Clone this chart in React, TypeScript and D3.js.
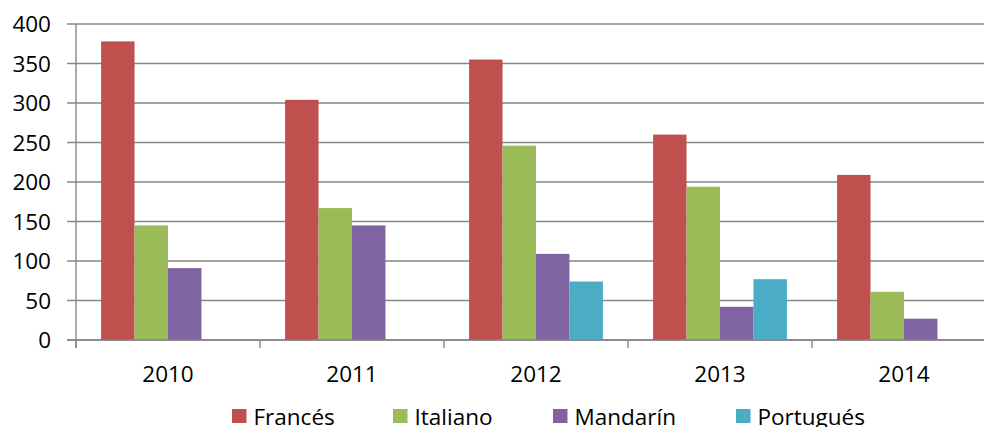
import React from "react";
import * as d3 from "d3";

const years = ["2010", "2011", "2012", "2013", "2014"];
const seriesNames = ["Francés", "Italiano", "Mandarín", "Portugués"];
const frances = [378, 304, 355, 260, 209];
const italiano = [145, 167, 246, 194, 61];
const mandarin = [91, 145, 109, 42, 27];
const portugues: (number | null)[] = [null, null, 74, 77, null];
const yTicks = [0, 50, 100, 150, 200, 250, 300, 350, 400];
const colors = ["#C0504D", "#9BBB59", "#8064A2", "#4BACC6"];

const W = 984;
const H = 427;
const plotLeft = 76;
const plotRight = 996;
const plotTop = 24;
const plotBottom = 340;
const FONT = "'Open Sans', sans-serif";
const legendX = [232, 393, 553, 736];

export default function App() {
  const values = [frances, italiano, mandarin, portugues];
  const x0 = d3.scaleBand<string>().domain(years).range([plotLeft, plotRight]).padding(0);
  const x1 = d3
    .scaleBand<string>()
    .domain(seriesNames)
    .range([0, x0.bandwidth()])
    .paddingInner(0)
    .paddingOuter(0.75);
  const y = d3.scaleLinear().domain([0, 400]).range([plotBottom, plotTop]);
  const axisColor = "#868686";
  const boundaries = years.map((yr) => x0(yr)!).concat([plotRight]);

  return (
    <svg
      width={W}
      height={H}
      style={{ position: "absolute", left: 0, top: 0, background: "#fff" }}
    >
      {/* gridlines */}
      {yTicks.map((t) => (
        <line
          key={"g" + t}
          x1={plotLeft - 9}
          x2={plotRight}
          y1={y(t)}
          y2={y(t)}
          stroke={axisColor}
          strokeWidth={1.4}
        />
      ))}
      {/* bars */}
      {seriesNames.map((s, si) =>
        years.map((yr, i) => {
          const v = values[si][i];
          if (v == null) return null;
          return (
            <rect
              key={s + yr}
              x={x0(yr)! + x1(s)!}
              y={y(v)}
              width={x1.bandwidth()}
              height={y(0) - y(v)}
              fill={colors[si]}
            />
          );
        })
      )}
      {/* y axis */}
      <line x1={plotLeft} x2={plotLeft} y1={plotTop} y2={plotBottom + 8} stroke={axisColor} strokeWidth={1.4} />
      <line x1={plotLeft - 9} x2={plotRight} y1={plotBottom} y2={plotBottom} stroke={axisColor} strokeWidth={1.4} />
      {boundaries.map((bx, i) => (
        <line key={"xt" + i} x1={bx} x2={bx} y1={plotBottom} y2={plotBottom + 8} stroke={axisColor} strokeWidth={1.4} />
      ))}
      {yTicks.map((t) => (
        <text
          key={"yl" + t}
          x={51}
          y={y(t) + 8.2}
          textAnchor="end"
          fontFamily={FONT}
          fontSize={22.5}
          fill="#000"
        >
          {t}
        </text>
      ))}
      {years.map((yr) => (
        <text
          key={"xl" + yr}
          x={x0(yr)! + x0.bandwidth() / 2}
          y={382}
          textAnchor="middle"
          fontFamily={FONT}
          fontSize={22.5}
          fill="#000"
        >
          {yr}
        </text>
      ))}
      {/* legend */}
      {seriesNames.map((s, si) => (
        <g key={"lg" + s}>
          <rect x={legendX[si]} y={409} width={14.5} height={14} fill={colors[si]} />
          <text x={legendX[si] + 21.5} y={425} fontFamily={FONT} fontSize={22.5} fill="#000">
            {s}
          </text>
        </g>
      ))}
    </svg>
  );
}
